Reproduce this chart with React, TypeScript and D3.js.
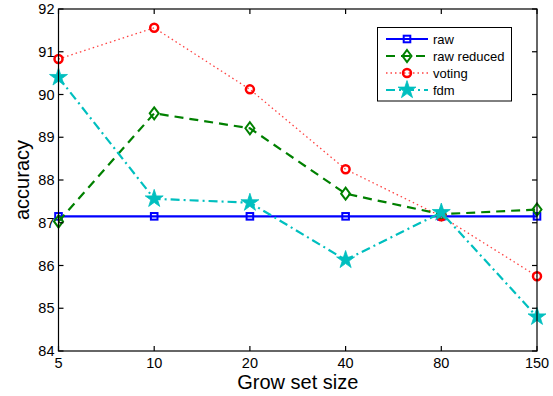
import React, { useEffect, useRef } from "react";
import * as d3 from "d3";

// Grow set sizes along the x axis (evenly spaced categories)
const growSizes = ["5", "10", "20", "40", "80", "150"];

// Accuracy per method
const rawValues = [87.15, 87.15, 87.15, 87.15, 87.15, 87.15];
const rawReducedValues = [87.03, 89.56, 89.21, 87.68, 87.2, 87.31];
const votingValues = [90.83, 91.56, 90.12, 88.25, 87.15, 85.75];
const fdmValues = [90.4, 87.56, 87.47, 86.13, 87.24, 84.8];

const yTicks = [84, 85, 86, 87, 88, 89, 90, 91, 92];
const seriesNames = ["raw", "raw reduced", "voting", "fdm"];

type Series = {
  name: string;
  values: number[];
  color: string;
  width: number;
  dash: string | null;
  marker: "square" | "diamond" | "circle" | "star";
};

const series: Series[] = [
  { name: seriesNames[0], values: rawValues, color: "#0000ff", width: 2.2, dash: null, marker: "square" },
  { name: seriesNames[1], values: rawReducedValues, color: "#008000", width: 2.2, dash: "9,6", marker: "diamond" },
  { name: seriesNames[2], values: votingValues, color: "#ff0000", width: 1.3, dash: "1.5,3", marker: "circle" },
  { name: seriesNames[3], values: fdmValues, color: "#00bfbf", width: 2.2, dash: "9,4,2,4", marker: "star" },
];

const W = 553;
const H = 396;
const margin = { left: 58.5, right: 16, top: 9, bottom: 45 };
const FONT = "'Liberation Sans', Arial, Helvetica, sans-serif";

function drawMarker(g: d3.Selection<SVGGElement, unknown, null, undefined>, s: Series, x: number, y: number) {
  if (s.marker === "square") {
    g.append("rect")
      .attr("x", x - 3.3).attr("y", y - 3.3).attr("width", 6.6).attr("height", 6.6)
      .attr("fill", "none").attr("stroke", s.color).attr("stroke-width", 2);
  } else if (s.marker === "diamond") {
    g.append("path")
      .attr("d", `M${x},${y - 6}L${x + 4.5},${y}L${x},${y + 6}L${x - 4.5},${y}Z`)
      .attr("fill", "none").attr("stroke", s.color).attr("stroke-width", 2);
  } else if (s.marker === "circle") {
    g.append("circle")
      .attr("cx", x).attr("cy", y).attr("r", 4)
      .attr("fill", "none").attr("stroke", s.color).attr("stroke-width", 2.5);
  } else {
    g.append("path")
      .attr("d", d3.symbol().type(d3.symbolStar).size(100)())
      .attr("transform", `translate(${x},${y})`)
      .attr("fill", s.color).attr("stroke", s.color).attr("stroke-width", 0.8);
  }
}

export default function App() {
  const ref = useRef<SVGSVGElement | null>(null);

  useEffect(() => {
    const svg = d3.select(ref.current);
    svg.selectAll("*").remove();

    const x = d3.scalePoint<string>().domain(growSizes).range([margin.left, W - margin.right]);
    const y = d3.scaleLinear().domain([84, 92]).range([H - margin.bottom, margin.top]);

    const x0 = margin.left, x1 = W - margin.right;
    const y0 = H - margin.bottom, y1 = margin.top;

    svg.append("rect").attr("width", W).attr("height", H).attr("fill", "#fff");

    // Series lines and markers
    const plot = svg.append("g");
    series.forEach((s) => {
      const line = d3.line<number>()
        .x((_, i) => x(growSizes[i]) as number)
        .y((v) => y(v));
      plot.append("path")
        .datum(s.values)
        .attr("d", line)
        .attr("fill", "none")
        .attr("stroke", s.color)
        .attr("stroke-width", s.width)
        .attr("stroke-dasharray", s.dash)
        .attr("stroke-opacity", s.marker === "circle" ? 0.75 : 1);
      const mg = plot.append("g");
      s.values.forEach((v, i) => drawMarker(mg, s, x(growSizes[i]) as number, y(v)));
    });

    // Axes box with inward ticks on all four sides
    const axes = svg.append("g").attr("stroke", "#000").attr("stroke-width", 1.2);
    axes.append("rect")
      .attr("x", x0).attr("y", y1).attr("width", x1 - x0).attr("height", y0 - y1)
      .attr("fill", "none");
    growSizes.forEach((c) => {
      const px = x(c) as number;
      axes.append("line").attr("x1", px).attr("x2", px).attr("y1", y0).attr("y2", y0 - 5);
      axes.append("line").attr("x1", px).attr("x2", px).attr("y1", y1).attr("y2", y1 + 5);
    });
    yTicks.forEach((t) => {
      const py = y(t);
      axes.append("line").attr("x1", x0).attr("x2", x0 + 5).attr("y1", py).attr("y2", py);
      axes.append("line").attr("x1", x1).attr("x2", x1 - 5).attr("y1", py).attr("y2", py);
    });

    const labels = svg.append("g").attr("font-family", FONT).attr("fill", "#000");
    growSizes.forEach((c) => {
      labels.append("text")
        .attr("x", x(c) as number).attr("y", y0 + 17)
        .attr("text-anchor", "middle").attr("font-size", 14.5)
        .text(c);
    });
    yTicks.forEach((t) => {
      labels.append("text")
        .attr("x", x0 - 4).attr("y", y(t) + 5)
        .attr("text-anchor", "end").attr("font-size", 14.5)
        .text(String(t));
    });
    labels.append("text")
      .attr("x", (x0 + x1) / 2).attr("y", 389)
      .attr("text-anchor", "middle").attr("font-size", 20)
      .text("Grow set size");
    labels.append("text")
      .attr("transform", `translate(29,${(y0 + y1) / 2}) rotate(-90)`)
      .attr("text-anchor", "middle").attr("font-size", 20)
      .text("accuracy");

    // Legend
    const lg = svg.append("g");
    lg.append("rect")
      .attr("x", 377.5).attr("y", 27.5).attr("width", 134).attr("height", 73.5)
      .attr("fill", "#fff").attr("stroke", "#000").attr("stroke-width", 1);
    const rowY = [39, 56, 73, 90];
    series.forEach((s, i) => {
      const ry = rowY[i];
      lg.append("line")
        .attr("x1", 386).attr("x2", 428).attr("y1", ry).attr("y2", ry)
        .attr("stroke", s.color).attr("stroke-width", s.width)
        .attr("stroke-dasharray", s.dash)
        .attr("stroke-opacity", s.marker === "circle" ? 0.75 : 1);
      drawMarker(lg as any, s, 407, ry);
      lg.append("text")
        .attr("x", 433).attr("y", ry + 4.5)
        .attr("font-family", FONT).attr("font-size", 13)
        .text(s.name);
    });
  }, []);

  return (
    <svg
      ref={ref}
      width={W}
      height={H}
      style={{ position: "absolute", left: 0, top: 0 }}
    />
  );
}
